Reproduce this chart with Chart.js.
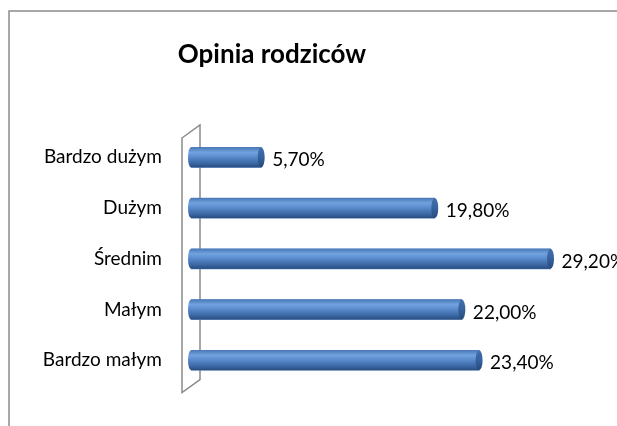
<!DOCTYPE html>
<html lang="pl">
<head>
    <meta charset="UTF-8">
    <title>Opinia rodziców</title>
    <script src="https://cdn.jsdelivr.net/npm/chart.js"></script>
    <style>
        html, body { margin: 0; padding: 0; background: #fff; }
        #wrap { width: 617px; height: 426px; position: relative; }
    </style>
</head>
<body>
    <div id="wrap"><canvas id="opiniaChart"></canvas></div>

    <script>
        // dane z wykresu
        var categories = ['Bardzo dużym', 'Dużym', 'Średnim', 'Małym', 'Bardzo małym'];
        var values = [5.7, 19.8, 29.2, 22.0, 23.4];
        var chartTitle = 'Opinia rodziców';

        var fontFamily = 'Lato, "Open Sans", sans-serif';

        function fmtPct(v) {
            return v.toFixed(2).replace('.', ',') + '%';
        }

        // pionowy gradient "walca"
        function barGradient(ctx, y, h) {
            var g = ctx.createLinearGradient(0, y - h / 2, 0, y + h / 2);
            g.addColorStop(0, '#4a78b8');
            g.addColorStop(0.25, '#72a2de');
            g.addColorStop(0.45, '#5d8ecf');
            g.addColorStop(0.8, '#3b67a3');
            g.addColorStop(1, '#284d80');
            return g;
        }

        // ramka, sciana 3D, tytul, etykiety danych, walce
        var decor = {
            id: 'decor',
            beforeDatasetsDraw: function(chart) {
                var ctx = chart.ctx, a = chart.chartArea;
                ctx.save();
                // ramka wykresu
                ctx.strokeStyle = '#8c8c8c';
                ctx.lineWidth = 1.5;
                ctx.beginPath();
                ctx.moveTo(9, 426);
                ctx.lineTo(9, 11);
                ctx.lineTo(617, 11);
                ctx.stroke();
                // sciana boczna
                ctx.strokeStyle = '#8a8a8a';
                ctx.beginPath();
                ctx.moveTo(a.left - 9, a.top + 6);
                ctx.lineTo(a.left + 9, a.top - 7);
                ctx.lineTo(a.left + 9, a.bottom - 6);
                ctx.lineTo(a.left - 9, a.bottom + 7);
                ctx.closePath();
                ctx.stroke();
                // tytul
                ctx.fillStyle = '#000';
                ctx.font = 'bold 26px ' + fontFamily;
                ctx.textAlign = 'center';
                ctx.textBaseline = 'middle';
                ctx.fillText(chartTitle, 272, 55);
                ctx.restore();
            },
            afterDatasetsDraw: function(chart) {
                var ctx = chart.ctx;
                var meta = chart.getDatasetMeta(0);
                ctx.save();
                meta.data.forEach(function(bar, i) {
                    var h = bar.height, y = bar.y;
                    var grad = barGradient(ctx, y, h);
                    // korpus walca na slupku z biblioteki
                    ctx.fillStyle = grad;
                    ctx.fillRect(bar.base, y - h / 2, bar.x - bar.base, h);
                    // lewa zaokraglona koncowka
                    ctx.beginPath();
                    ctx.ellipse(bar.base, y, 3, h / 2, 0, Math.PI / 2, Math.PI * 1.5);
                    ctx.fill();
                    // prawa koncowka (przekroj walca)
                    var g = ctx.createLinearGradient(0, y - h / 2, 0, y + h / 2);
                    g.addColorStop(0, '#4270ad');
                    g.addColorStop(0.5, '#36629e');
                    g.addColorStop(1, '#264a7c');
                    ctx.fillStyle = g;
                    ctx.beginPath();
                    ctx.ellipse(bar.x, y, 3.5, h / 2, 0, 0, Math.PI * 2);
                    ctx.fill();
                    // etykieta wartosci
                    ctx.fillStyle = '#000';
                    ctx.font = '19px ' + fontFamily;
                    ctx.textAlign = 'left';
                    ctx.textBaseline = 'middle';
                    ctx.fillText(fmtPct(values[i]), bar.x + 11, y + 3);
                });
                ctx.restore();
            }
        };

        var ctx = document.getElementById('opiniaChart').getContext('2d');
        var opiniaChart = new Chart(ctx, {
            type: 'bar',
            data: {
                labels: categories,
                datasets: [{
                    label: 'Opinia rodziców',
                    data: values,
                    backgroundColor: '#4f81bd',
                    borderWidth: 0,
                    barThickness: 20
                }]
            },
            options: {
                indexAxis: 'y',
                responsive: true,
                maintainAspectRatio: false,
                animation: false,
                layout: {
                    padding: { top: 132, bottom: 33, left: 0, right: 0 }
                },
                plugins: {
                    legend: { display: false },
                    title: { display: false },
                    tooltip: { enabled: false }
                },
                scales: {
                    x: {
                        display: false,
                        min: 0,
                        max: 34.6
                    },
                    y: {
                        grid: { display: false, drawTicks: false },
                        border: { display: false },
                        ticks: {
                            color: '#000',
                            padding: 29,
                            font: { family: fontFamily, size: 19 }
                        },
                        afterFit: function(scale) { scale.width = 191; }
                    }
                }
            },
            plugins: [decor]
        });
    </script>
</body>
</html>
